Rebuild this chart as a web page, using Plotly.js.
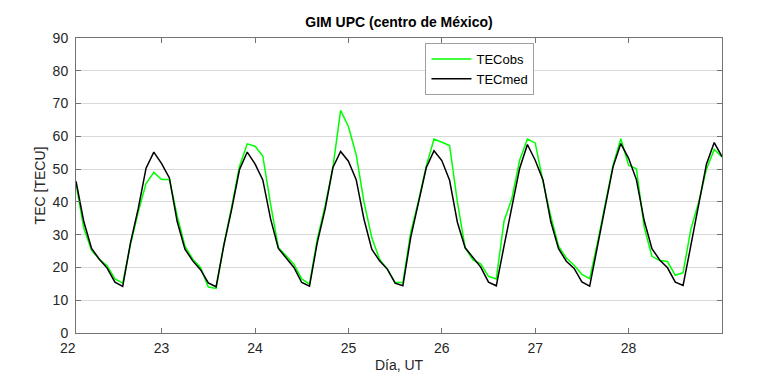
<!DOCTYPE html>
<html><head><meta charset="utf-8">
<script src="https://cdn.plot.ly/plotly-3.0.1.min.js"></script>
<style>html,body{margin:0;padding:0;background:#fff}#chart{width:760px;height:380px}</style>
</head><body><div id="chart"></div>
<script>
// Days of the month and UT hours (2-hourly samples)
const days = [22, 23, 24, 25, 26, 27, 28];
const hoursUT = [2, 4, 6, 8, 10, 12, 14, 16, 18, 20, 22, 24];

// TEC observed (GIM UPC), TECU
const tecObs = [
  45.5, 32.0, 25.2, 22.5, 20.5, 16.5, 15.2, 27.0, 37.0, 45.6, 49.0, 46.8,
  46.8, 35.7, 26.5, 22.5, 20.0, 14.0, 13.6, 27.0, 38.5, 50.8, 57.7, 57.0,
  54.0, 39.3, 26.1, 23.5, 21.0, 16.5, 14.9, 28.6, 38.7, 50.4, 67.9, 63.0,
  54.4, 40.0, 29.1, 22.5, 19.5, 15.4, 15.4, 30.6, 40.2, 50.9, 59.2, 58.2,
  57.2, 40.0, 26.0, 22.3, 21.1, 17.3, 16.5, 34.2, 41.0, 52.7, 59.2, 58.0,
  46.2, 35.6, 26.5, 22.9, 20.7, 17.9, 16.6, 27.5, 39.1, 51.2, 59.3, 51.2,
  50.1, 32.3, 23.4, 22.1, 21.8, 17.6, 18.4, 31.7, 39.8, 50.0, 56.0, 53.7
];
// TEC median, TECU
const tecMed = [
  46.3, 34.0, 25.8, 22.5, 19.8, 15.5, 14.2, 27.5, 38.0, 50.3, 55.2, 51.7,
  47.3, 34.0, 25.6, 22.0, 19.3, 15.3, 14.1, 26.8, 37.7, 49.8, 55.2, 51.6,
  46.7, 34.8, 25.8, 22.8, 20.0, 15.4, 14.3, 27.6, 37.7, 50.4, 55.4, 52.4,
  46.8, 34.7, 25.6, 22.0, 19.5, 15.2, 14.4, 29.1, 39.7, 50.4, 55.6, 52.6,
  46.6, 33.8, 26.0, 23.1, 20.1, 15.5, 14.4, 26.6, 38.6, 50.2, 57.5, 52.7,
  46.7, 34.0, 25.7, 21.9, 19.7, 15.6, 14.3, 27.0, 38.6, 50.7, 57.8, 53.3,
  46.8, 34.3, 25.7, 22.3, 19.9, 15.5, 14.5, 26.7, 39.3, 51.5, 58.1, 53.8
];

const xTickVals = [23, 24, 25, 26, 27, 28];
const xTickText = ['23', '24', '25', '26', '27', '28'];
const firstDayLabel = '22';
const yTickVals = [0, 10, 20, 30, 40, 50, 60, 70, 80, 90];

const x = [];
days.forEach(d => hoursUT.forEach(h => x.push(d + h / 24)));

const FONT = 'Liberation Sans, Arial, Helvetica, sans-serif';
const AXC = '#737373';

const traces = [
  {x: x, y: tecObs, type: 'scatter', mode: 'lines', name: 'TECobs',
   line: {color: '#00ff00', width: 1.5}},
  {x: x, y: tecMed, type: 'scatter', mode: 'lines', name: 'TECmed',
   line: {color: '#000000', width: 1.5}}
];

const layout = {
  width: 760, height: 380,
  margin: {l: 76, r: 38, t: 38, b: 47, pad: 0},
  paper_bgcolor: '#ffffff', plot_bgcolor: '#ffffff',
  font: {family: FONT, size: 13, color: '#262626'},
  title: {text: '<b>GIM UPC (centro de México)</b>', x: 0.525, xanchor: 'center',
          y: 0.942, yanchor: 'middle', font: {family: FONT, size: 14, color: '#000'}},
  showlegend: true,
  legend: {x: 0.541, y: 0.983, xanchor: 'left', yanchor: 'top',
           bgcolor: '#ffffff', bordercolor: '#a0a0a0', borderwidth: 1,
           itemwidth: 40,
           font: {family: FONT, size: 13, color: '#000'}, tracegroupgap: 0},
  xaxis: {range: [22 + 2 / 24, 29], tickmode: 'array', tickvals: xTickVals, ticktext: xTickText,
          showgrid: false, zeroline: false, showline: true, linecolor: AXC, linewidth: 1,
          mirror: 'ticks', ticks: 'inside', ticklen: 5, tickcolor: AXC,
          ticklabelstandoff: 2,
          tickfont: {family: FONT, size: 14, color: '#262626'},
          title: {text: 'Día, UT', standoff: 5, font: {family: FONT, size: 14, color: '#262626'}}},
  yaxis: {range: [0, 90], tickmode: 'array', tickvals: yTickVals,
          showgrid: true, gridcolor: '#d9d9d9', gridwidth: 1, zeroline: false,
          showline: true, linecolor: AXC, linewidth: 1,
          mirror: 'ticks', ticks: 'inside', ticklen: 5, tickcolor: AXC,
          ticklabelstandoff: 4,
          tickfont: {family: FONT, size: 14, color: '#262626'},
          title: {text: 'TEC [TECU]', standoff: 3, font: {family: FONT, size: 14, color: '#262626'}}},
  annotations: [
    {text: firstDayLabel, xref: 'paper', yref: 'paper', x: -8 / 646, y: 0,
     xanchor: 'center', yanchor: 'top', yshift: -5, showarrow: false,
     font: {family: FONT, size: 14, color: '#262626'}}
  ]
};

Plotly.newPlot('chart', traces, layout, {staticPlot: true, displayModeBar: false});
</script>
</body></html>
